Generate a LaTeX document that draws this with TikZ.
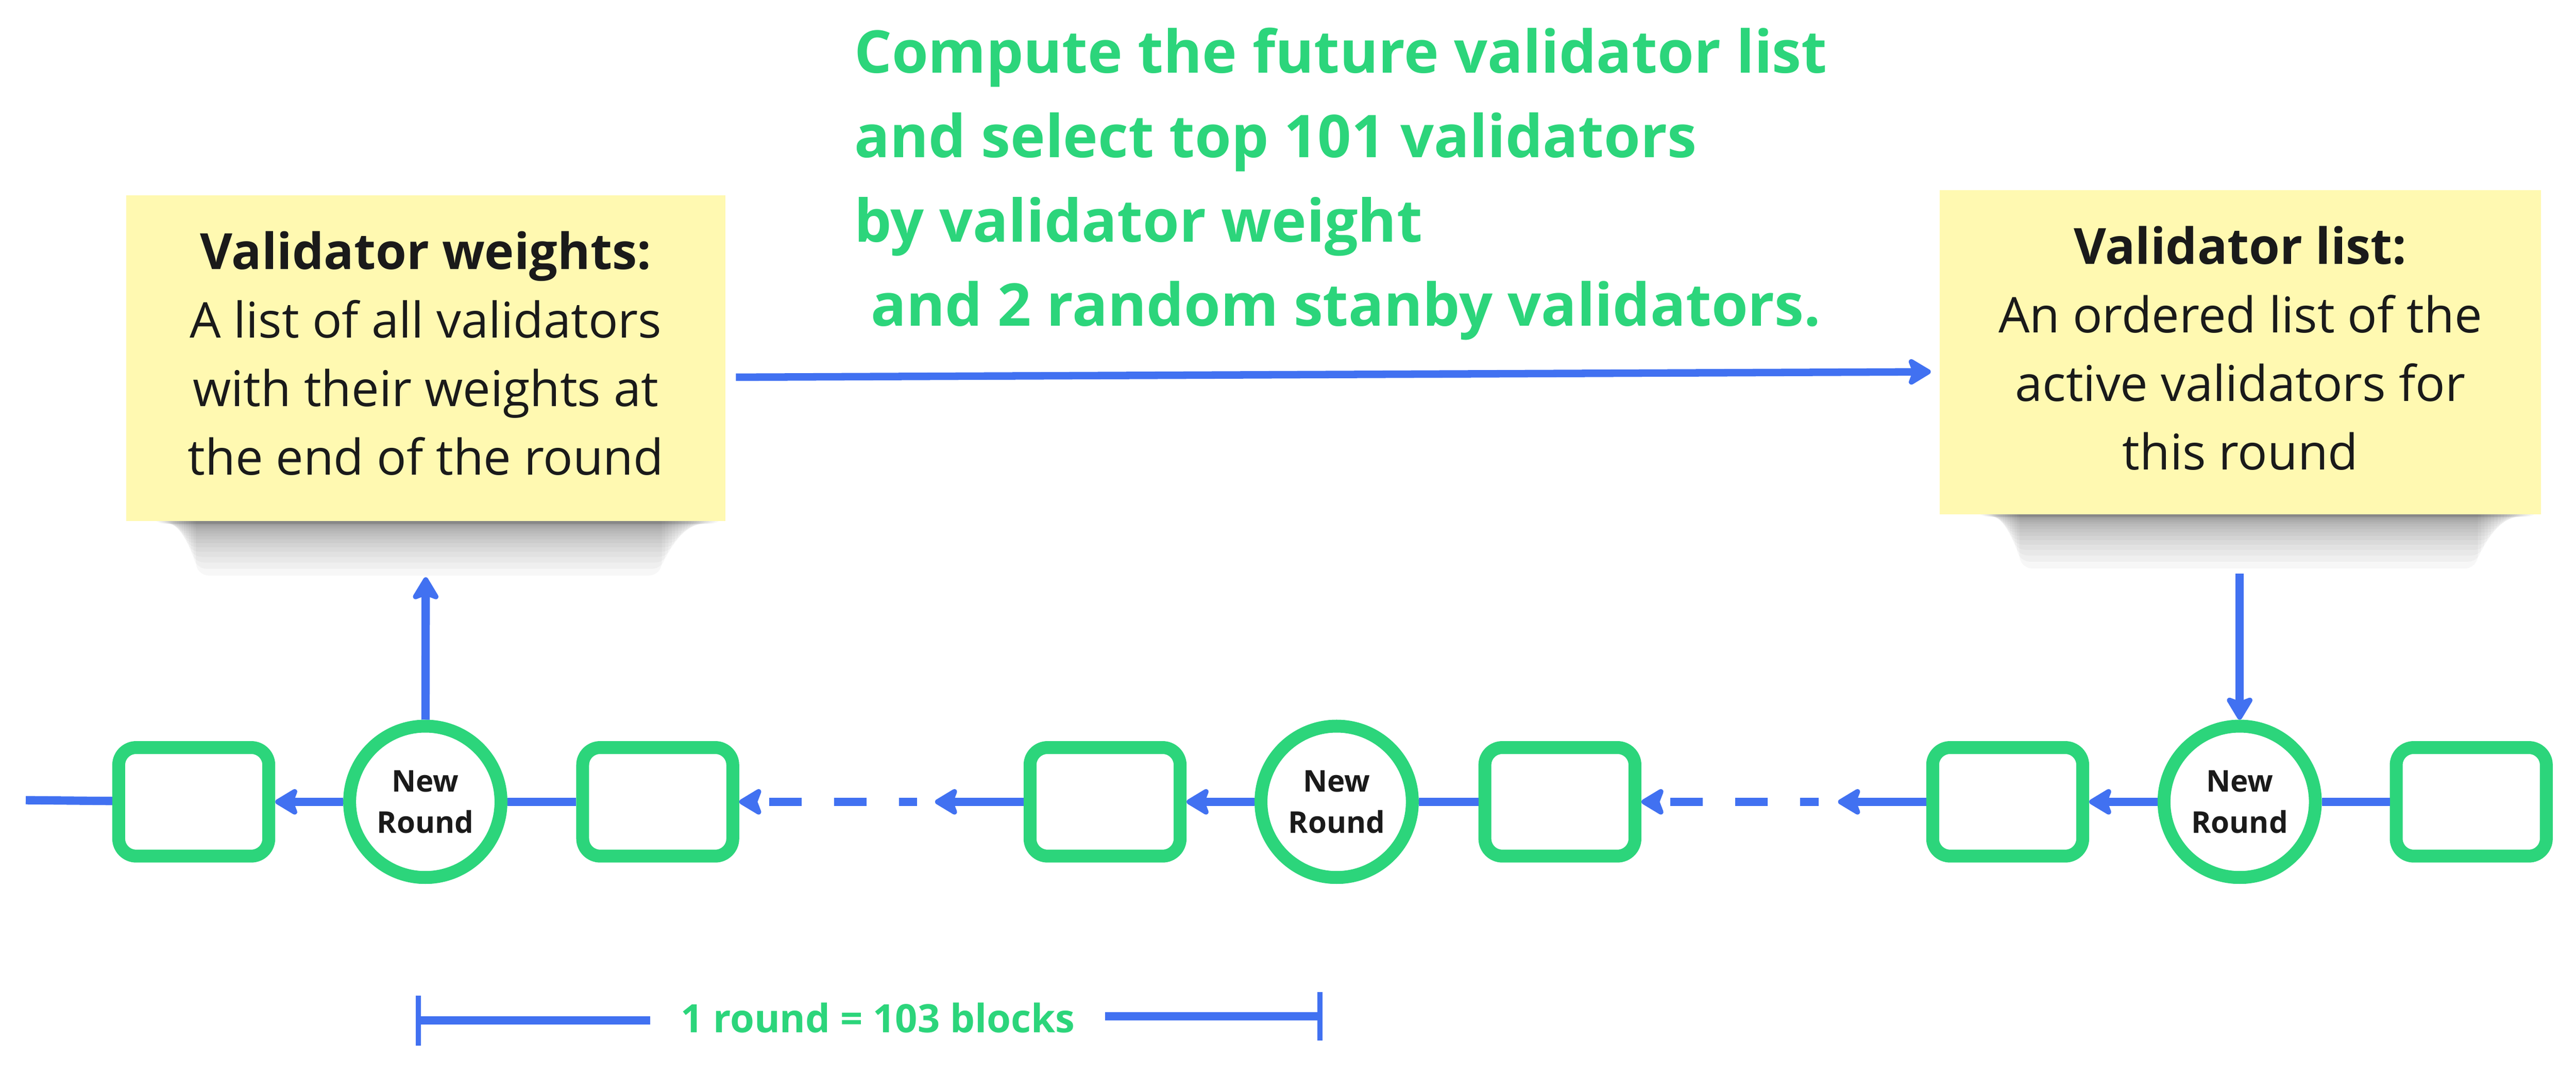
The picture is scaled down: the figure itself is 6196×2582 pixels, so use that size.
\documentclass[tikz,border=0pt]{standalone}
\usepackage{fontspec}
\setmainfont{Open Sans}
\usetikzlibrary{arrows.meta,calc}
\definecolor{mgreen}{RGB}{44,213,123}
\definecolor{mblue}{RGB}{65,113,241}
\definecolor{notey}{RGB}{255,249,177}
\definecolor{ink}{RGB}{26,26,26}
\begin{document}
\begin{tikzpicture}[x=0.25pt,y=-0.25pt,
  block/.style={draw=mgreen,line width=7.75pt,rounded corners=10.5pt,minimum width=90.25pt,minimum height=65.25pt,inner sep=0pt,fill=white},
  roundnode/.style={circle,draw=mgreen,line width=7.75pt,minimum size=91pt,inner sep=0pt,fill=white,align=center,text=ink,font=\bfseries\fontsize{18}{24.75}\selectfont},
  sticky/.style={fill=notey,inner sep=0pt,outer sep=0pt},
  notetext/.style={align=center,text=ink,inner sep=0pt,font=\fontsize{29.6}{41.25}\selectfont},
  link/.style={draw=mblue,line width=5pt},
  arr/.style={link,-{Stealth[length=16pt,width=19pt,inset=3.5pt,round]}},
  dashy/.style={dash pattern=on 19.5pt off 19.5pt,dash phase=8.5pt},
  mline/.style={draw=mblue,line width=5pt},
  shadowlayer/.style={fill=black,opacity=0.03,rounded corners=8pt}
]
\useasboundingbox (0,0) rectangle (6196,2582);

% soft shadows of the sticky notes
\foreach \i in {0,...,19}{
  \pgfmathsetmacro{\t}{(\i/19)^2.6}
  \pgfmathsetmacro{\h}{5+125*\t}
  \pgfmathsetmacro{\f}{\i/19}
  \fill[shadowlayer] (363+108*\f,1150) rectangle (1742-150*\f,1254+\h);
  \fill[shadowlayer] (4749+108*\f,1130) rectangle (6110-150*\f,1237+\h);
}

% sticky notes
\node[sticky,minimum width=360.5pt,minimum height=195.75pt] (wnote) at (1024,861.5) {};
\node[sticky,minimum width=361.75pt,minimum height=195pt] (lnote) at (5388.5,847) {};
\node[notetext] (wtext) at ($(wnote.center)+(0,-12)$) {{\bfseries\fontsize{30}{41.25}\selectfont Validator weights:}\\A list of all validators\\with their weights at\\the end of the round};
\node[notetext] (ltext) at ($(lnote.center)+(0,-10)$) {{\bfseries\fontsize{30}{41.25}\selectfont Validator list:}\\An ordered list of the\\active validators for\\this round};

% heading
\node[anchor=north west,inner sep=0pt,align=left,text=mgreen,font=\bfseries\fontsize{35.45}{50.75}\selectfont] (head) at (2054,66)
 {Compute the future validator list\\and select top 101 validators\\by validator weight\\\hspace*{0.28em}and 2 random stanby validators.};

% main arrow
\draw[arr,line width=4.5pt] ($(wnote.east)+(25,45.5)$) -- ($(lnote.west)+(-21,47)$);

% chain
\node[block] (r1) at (466,1928) {};
\node[roundnode] (c1) at (1023,1928) {New\\Round};
\node[block] (r2) at (1582,1928) {};
\node[block] (r3) at (2658,1928) {};
\node[roundnode] (c2) at (3215,1928) {New\\Round};
\node[block] (r4) at (3752,1928) {};
\node[block] (r5) at (4829,1928) {};
\node[roundnode] (c3) at (5387,1928) {New\\Round};
\node[block] (r6) at (5944,1928) {};

\coordinate (s0) at (62,1924);
\draw[link] (s0) -- (r1);
\draw[arr] (c1) -- (r1);
\draw[link] (c1) -- (r2);
\coordinate (m1) at ($(r3.west)+(-213,0)$);
\coordinate (d1) at ($(m1)+(-43,0)$);
\draw[arr] (r3) -- (m1);
\draw[arr,dashy] (d1) -- (r2);
\draw[arr] (c2) -- (r3);
\draw[link] (c2) -- (r4);
\coordinate (m2) at ($(r5.west)+(-212,0)$);
\coordinate (d2) at ($(m2)+(-47,0)$);
\draw[arr] (r5) -- (m2);
\draw[arr,dashy] (d2) -- (r4);
\draw[arr] (c3) -- (r5);
\draw[link] (c3) -- (r6);

% vertical arrows
\coordinate (u1) at (1024,1388);
\draw[arr] (c1) -- (u1);
\coordinate (v1) at (5387,1379);
\draw[arr] (v1) -- (c3);

% measure
\node[anchor=base,inner xsep=18pt,inner ysep=0pt,text=mgreen,font=\bfseries\fontsize{23.5}{28}\selectfont] (lbl) at (2111,2483) {1 round = 103 blocks};
\coordinate (mL) at (1000,2454);
\coordinate (mR) at (3181,2444);
\draw[mline,{Bar[width=30pt,line width=3pt]}-] (mL) -- (mL -| lbl.west);
\draw[mline,-{Bar[width=29pt,line width=3pt]}] (mR -| lbl.east) -- (mR);
\end{tikzpicture}
\end{document}
